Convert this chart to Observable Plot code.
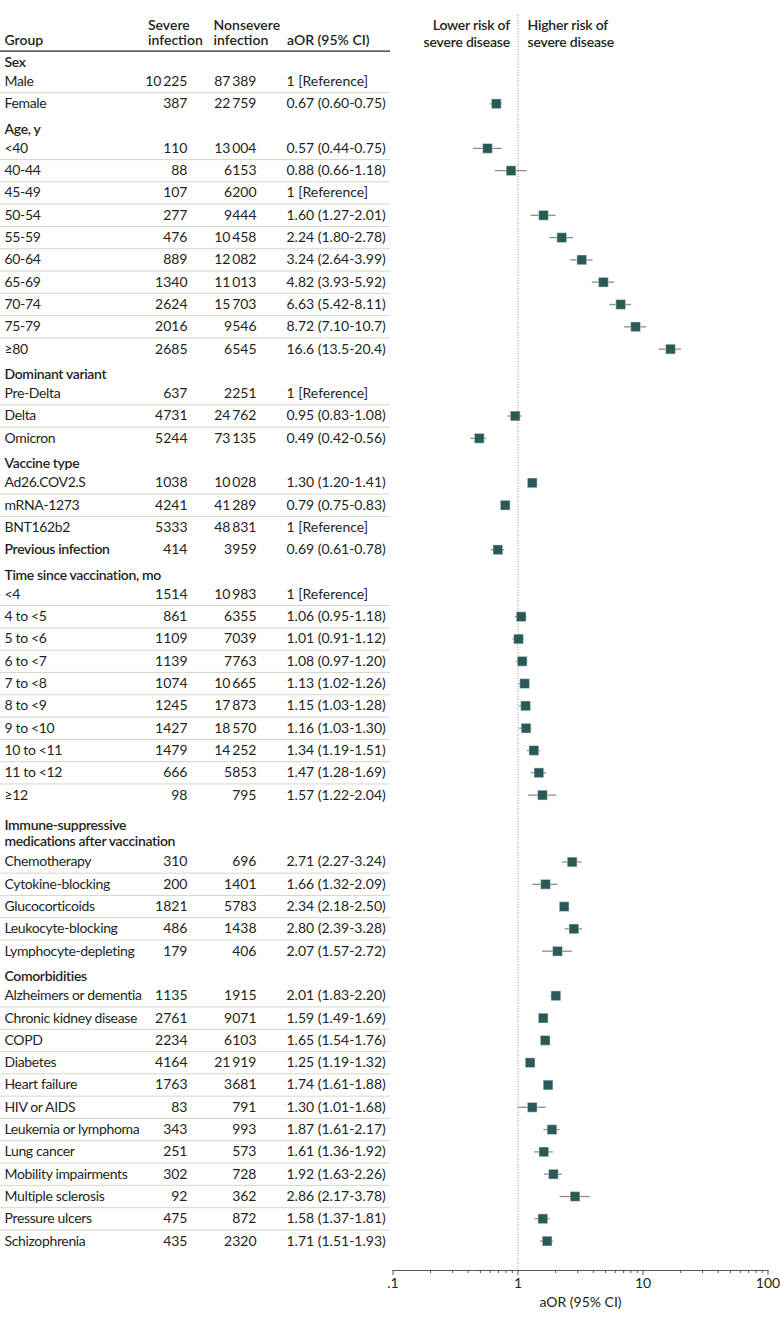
<!DOCTYPE html>
<html>
<head>
<meta charset="utf-8">
<script src="https://cdn.jsdelivr.net/npm/d3@7"></script>
<script src="https://cdn.jsdelivr.net/npm/@observablehq/plot@0.6"></script>
<style>
  body { margin: 0; background: #fff; }
  #chart { position: relative; width: 780px; height: 1322px; }
  #chart svg { position: absolute; left: 0; top: 0; }
</style>
</head>
<body>
<div id="chart"></div>
<script>
// ---------- data ----------
const sectionNames = ["Sex", "Age, y", "Dominant variant", "Vaccine type", "Previous infection",
  "Time since vaccination, mo", "Immune-suppressive\nmedications after vaccination", "Comorbidities"];
const sectionSizes = [2, 10, 3, 3, 1, 10, 5, 12];

const labels = [
  "Male", "Female",
  "<40", "40-44", "45-49", "50-54", "55-59", "60-64", "65-69", "70-74", "75-79", "≥80",
  "Pre-Delta", "Delta", "Omicron",
  "Ad26.COV2.S", "mRNA-1273", "BNT162b2",
  "Previous infection",
  "<4", "4 to <5", "5 to <6", "6 to <7", "7 to <8", "8 to <9", "9 to <10", "10 to <11", "11 to <12", "≥12",
  "Chemotherapy", "Cytokine-blocking", "Glucocorticoids", "Leukocyte-blocking", "Lymphocyte-depleting",
  "Alzheimers or dementia", "Chronic kidney disease", "COPD", "Diabetes", "Heart failure", "HIV or AIDS",
  "Leukemia or lymphoma", "Lung cancer", "Mobility impairments", "Multiple sclerosis", "Pressure ulcers", "Schizophrenia"
];
const severe = [
  10225, 387,
  110, 88, 107, 277, 476, 889, 1340, 2624, 2016, 2685,
  637, 4731, 5244,
  1038, 4241, 5333,
  414,
  1514, 861, 1109, 1139, 1074, 1245, 1427, 1479, 666, 98,
  310, 200, 1821, 486, 179,
  1135, 2761, 2234, 4164, 1763, 83, 343, 251, 302, 92, 475, 435
];
const nonsevere = [
  87389, 22759,
  13004, 6153, 6200, 9444, 10458, 12082, 11013, 15703, 9546, 6545,
  2251, 24762, 73135,
  10028, 41289, 48831,
  3959,
  10983, 6355, 7039, 7763, 10665, 17873, 18570, 14252, 5853, 795,
  696, 1401, 5783, 1438, 406,
  1915, 9071, 6103, 21919, 3681, 791, 993, 573, 728, 362, 872, 2320
];
// null = reference category
const aor = [
  null, 0.67,
  0.57, 0.88, null, 1.60, 2.24, 3.24, 4.82, 6.63, 8.72, 16.6,
  null, 0.95, 0.49,
  1.30, 0.79, null,
  0.69,
  null, 1.06, 1.01, 1.08, 1.13, 1.15, 1.16, 1.34, 1.47, 1.57,
  2.71, 1.66, 2.34, 2.80, 2.07,
  2.01, 1.59, 1.65, 1.25, 1.74, 1.30, 1.87, 1.61, 1.92, 2.86, 1.58, 1.71
];
const ciLow = [
  null, 0.60,
  0.44, 0.66, null, 1.27, 1.80, 2.64, 3.93, 5.42, 7.10, 13.5,
  null, 0.83, 0.42,
  1.20, 0.75, null,
  0.61,
  null, 0.95, 0.91, 0.97, 1.02, 1.03, 1.03, 1.19, 1.28, 1.22,
  2.27, 1.32, 2.18, 2.39, 1.57,
  1.83, 1.49, 1.54, 1.19, 1.61, 1.01, 1.61, 1.36, 1.63, 2.17, 1.37, 1.51
];
const ciHigh = [
  null, 0.75,
  0.75, 1.18, null, 2.01, 2.78, 3.99, 5.92, 8.11, 10.7, 20.4,
  null, 1.08, 0.56,
  1.41, 0.83, null,
  0.78,
  null, 1.18, 1.12, 1.20, 1.26, 1.28, 1.30, 1.51, 1.69, 2.04,
  3.24, 2.09, 2.50, 3.28, 2.72,
  2.20, 1.69, 1.76, 1.32, 1.88, 1.68, 2.17, 1.92, 2.26, 3.78, 1.81, 1.93
];
const columnHeaders = ["Group", "Severe\ninfection", "Nonsevere\ninfection", "aOR (95% CI)"];
const xTicks = [0.1, 1, 10, 100];
const xTickLabels = [".1", "1", "10", "100"];
const xMinorTicks = [0.2, 0.3, 0.4, 0.5, 0.6, 0.7, 0.8, 0.9, 2, 3, 4, 5, 6, 7, 8, 9, 20, 30, 40, 50, 60, 70, 80, 90];
const sideNotes = ["Lower risk of\nsevere disease", "Higher risk of\nsevere disease"];
const axisTitle = "aOR (95% CI)";

// ---------- layout of rows ----------
const rows = [];
const headers = [];
let idx = 0, k = 0;
sectionNames.forEach((name, s) => {
  const n = sectionSizes[s];
  const inline = n === 1 && labels[k] === name;
  if (!inline) {
    const lines = name.split("\n").length;
    headers.push({name, y: lines > 1 ? idx + 0.68 : idx + 0.1});
    idx += lines;
  }
  for (let j = 0; j < n; j++, k++) {
    rows.push({
      label: labels[k], severe: severe[k], nonsevere: nonsevere[k],
      aor: aor[k], lo: ciLow[k], hi: ciHigh[k],
      y: idx, bold: inline, sepAfter: j < n - 1
    });
    idx++;
  }
});
const lastRow = idx - 1;

const fmtN = n => n >= 10000 ? d3.format(",")(n).replace(",", "\u2009") : String(n);
const fmtV = v => v >= 10 ? v.toFixed(1) : v.toFixed(2);
const aorText = d => d.aor == null ? "1 [Reference]" : `${fmtV(d.aor)} (${fmtV(d.lo)}-${fmtV(d.hi)})`;

const FONT = "Lato, 'Noto Sans', sans-serif";
const INK = "#231f20";
const BOLD = 600;
const yScale = {domain: [0, lastRow], range: [58.7, 1240.6], axis: null};

// ---------- table (left) ----------
const table = Plot.plot({
  width: 780, height: 1322, margin: 0,
  x: {domain: [0, 780], range: [0, 780], axis: null},
  y: yScale,
  style: {fontFamily: FONT, fontSize: "14px", color: INK, background: "white"},
  marks: [
    Plot.ruleY(rows.filter(d => d.sepAfter), {y: d => d.y + 0.5, x1: 0, x2: 390, stroke: "#d9d5ca", strokeWidth: 1}),
    Plot.ruleY([-0.36], {x1: 0, x2: 390, stroke: INK, strokeWidth: 1.4}),
    // column headers
    Plot.text([columnHeaders[0]], {x: 4, y: -0.84, text: d => d, textAnchor: "start", fontWeight: BOLD, fill: INK}),
    Plot.text([columnHeaders[1]], {x: 147.5, y: -1.2, text: d => d, textAnchor: "start", fontWeight: BOLD, lineHeight: 1.08, fill: INK}),
    Plot.text([columnHeaders[2]], {x: 213, y: -1.2, text: d => d, textAnchor: "start", fontWeight: BOLD, lineHeight: 1.08, fill: INK}),
    Plot.text([columnHeaders[3]], {x: 286.5, y: -0.84, text: d => d, textAnchor: "start", fontWeight: BOLD, fill: INK}),
    // section headers
    Plot.text(headers, {x: 4, y: "y", text: "name", textAnchor: "start", fontWeight: BOLD, lineHeight: 1.2, fill: INK}),
    // row labels
    Plot.text(rows.filter(d => !d.bold), {x: 4, y: "y", text: "label", textAnchor: "start", fill: INK}),
    Plot.text(rows.filter(d => d.bold), {x: 4, y: "y", text: "label", textAnchor: "start", fontWeight: BOLD, fill: INK}),
    Plot.text(rows, {x: 187, y: "y", text: d => fmtN(d.severe), textAnchor: "end", fill: INK}),
    Plot.text(rows, {x: 256, y: "y", text: d => fmtN(d.nonsevere), textAnchor: "end", fill: INK}),
    Plot.text(rows, {x: 286, y: "y", text: aorText, textAnchor: "start", fill: INK})
  ]
});
// tighten the label columns slightly (reference typeface is narrower)
const textGroups = table.querySelectorAll('g[aria-label="text"]');
[4, 5, 6].forEach(i => { if (textGroups[i]) textGroups[i].style.letterSpacing = "-0.35px"; });

// ---------- forest (right) ----------
const est = rows.filter(d => d.aor != null);
const forest = Plot.plot({
  width: 780, height: 1322,
  marginLeft: 392.5, marginRight: 12.5, marginTop: 15, marginBottom: 52,
  x: {type: "log", domain: [0.1, 100]},
  y: yScale,
  style: {fontFamily: FONT, fontSize: "14px", color: INK, background: "transparent"},
  marks: [
    Plot.ruleX([1], {stroke: "#8f8f8f", strokeWidth: 1, strokeDasharray: "1,1.6"}),
    Plot.frame({anchor: "bottom", stroke: "#555", strokeWidth: 1}),
    Plot.axisX(xMinorTicks, {tickSize: 3, tickFormat: () => "", stroke: "#555", label: null}),
    Plot.axisX(xTicks, {
      tickSize: 5, tickPadding: 3, stroke: "#555", fill: INK,
      tickFormat: d => xTickLabels[xTicks.indexOf(d)],
      label: axisTitle, labelAnchor: "center", labelArrow: "none", labelOffset: 36
    }),
    Plot.ruleY(est, {y: "y", x1: "lo", x2: "hi", stroke: "#8c8c8c", strokeWidth: 1.3}),
    Plot.dot(est, {x: "aor", y: "y", symbol: "square", r: 5.5, fill: "#2a5a57", stroke: "#e8eeee", strokeWidth: 0.5}),
    Plot.text([sideNotes[0]], {x: 1, y: -1.18, text: d => d, textAnchor: "end", dx: -8, fontWeight: BOLD, lineHeight: 1.21, fill: INK}),
    Plot.text([sideNotes[1]], {x: 1, y: -1.18, text: d => d, textAnchor: "start", dx: 9.5, fontWeight: BOLD, lineHeight: 1.21, fill: INK})
  ]
});
forest.querySelectorAll('g[aria-label="text"]').forEach(g => { g.style.letterSpacing = "-0.2px"; });

const root = document.getElementById("chart");
root.appendChild(table);
root.appendChild(forest);
</script>
</body>
</html>
